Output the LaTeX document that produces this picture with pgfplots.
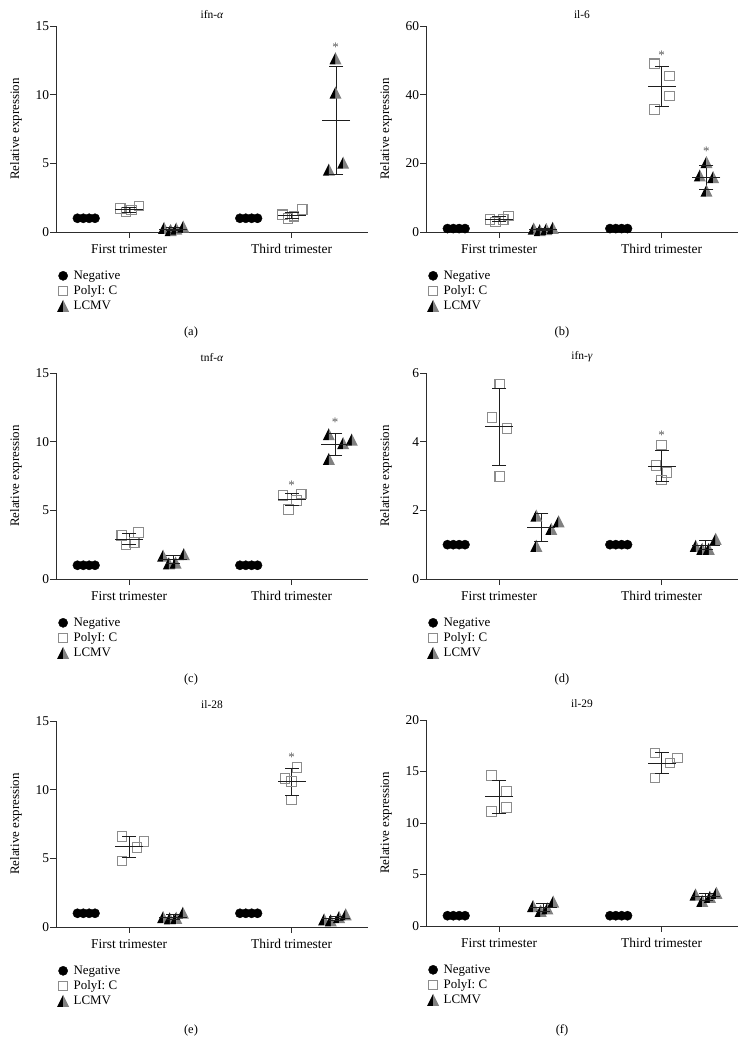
\documentclass[border=0pt]{standalone}
\usepackage{fontspec}
\setmainfont{Liberation Serif}
\usepackage{pgfplots}
\pgfplotsset{compat=1.18}
\definecolor{tgray}{RGB}{128,128,128}
\definecolor{sgray}{RGB}{140,140,140}
\definecolor{axc}{RGB}{45,45,45}
\definecolor{errc}{RGB}{30,30,30}
\definecolor{astc}{RGB}{90,90,90}

\pgfdeclareplotmark{htri}{%
  \pgfpathmoveto{\pgfqpoint{0pt}{1.1\pgfplotmarksize}}%
  \pgfpathlineto{\pgfqpoint{-\pgfplotmarksize}{-0.9\pgfplotmarksize}}%
  \pgfpathlineto{\pgfqpoint{0pt}{-0.9\pgfplotmarksize}}%
  \pgfpathclose
  \pgfsetfillcolor{black}%
  \pgfusepath{fill}%
  \pgfpathmoveto{\pgfqpoint{0pt}{1.1\pgfplotmarksize}}%
  \pgfpathlineto{\pgfqpoint{\pgfplotmarksize}{-0.9\pgfplotmarksize}}%
  \pgfpathlineto{\pgfqpoint{0pt}{-0.9\pgfplotmarksize}}%
  \pgfpathclose
  \pgfsetfillcolor{tgray}%
  \pgfusepath{fill}%
}

\pgfplotsset{
  panel/.style={
    scale only axis, width=312bp, height=206bp,
    anchor=south west,
    xmin=-0.45, xmax=1.47, ymin=0,
    axis x line=bottom, axis y line=left,
    axis line style={-, axc, line width=0.8pt},
    xtick={0,1}, xticklabels={First trimester, Third trimester},
    tick align=outside, major tick length=6bp,
    tick style={axc, line width=0.8pt},
    minor tick num=0,
    clip=false,
    /pgf/number format/assume math mode=true,
    tick label style={font=\fontsize{13.5}{16}\selectfont},
    xticklabel style={yshift=-3bp},
    yticklabel style={inner sep=0.8pt},
    ylabel={Relative expression},
    every axis y label/.style={at={(axis description cs:-0.128,0.5)}, rotate=90, anchor=center, font=\fontsize{13}{15}\selectfont},
    title style={font=\fontsize{11.5}{14}\selectfont, at={(axis description cs:0.5,1)}, anchor=center},
    legend style={at={(axis description cs:0.003,-0.18)}, anchor=north west, draw=none, fill=none,
      font=\fontsize{13}{15}\selectfont, row sep=2bp, column sep=3bp, inner sep=0pt,
      nodes={inner sep=1.5pt}},
    legend cell align=left,
    legend image code/.code={\draw[##1] plot coordinates {(0bp,0bp)};},
  },
  neg/.style={only marks, mark=*, mark size=4.6bp, black, mark options={fill=black, draw=black}},
  pic/.style={only marks, mark=square, mark size=4.8bp, sgray, mark options={line width=1.1pt, draw=sgray, fill=none}},
  lcm/.style={only marks, mark=htri, mark size=6bp},
}

\newcommand{\mse}[4]{%
  \addplot[forget plot, errc, line width=0.9pt] coordinates {(#1,#3) (#1,#4)};
  \addplot[forget plot, errc, only marks, mark=-, mark size=7bp, mark options={line width=0.9pt}] coordinates {(#1,#3) (#1,#4)};
  \addplot[forget plot, errc, only marks, mark=-, mark size=14bp, mark options={line width=0.9pt}] coordinates {(#1,#2)};
}
\newcommand{\negdata}{%
  \addplot[neg] coordinates {(-0.318,1) (-0.282,1) (-0.246,1) (-0.21,1) (0.682,1) (0.718,1) (0.754,1) (0.79,1)};
}
\newcommand{\astm}[2]{\node[astc, font=\fontsize{13}{15}\selectfont, anchor=center, yshift=-3bp] at (axis cs:#1,#2) {*};}
\newcommand{\leg}{\legend{Negative, PolyI: C, LCMV}}

\begin{document}
\begin{tikzpicture}
\useasboundingbox (0,0) rectangle (747bp,-1053bp);

% (a) ifn-alpha
\begin{axis}[panel, at={(56bp,-232bp)}, ymax=15, ytick={0,5,10,15},
  title={ifn-\textit{α}}, title style={yshift=5bp}]
\negdata
\addplot[pic] coordinates {(-0.055,1.7) (-0.02,1.45) (0.014,1.6) (0.061,1.9) (0.943,1.25) (0.978,1.0) (1.014,1.15) (1.065,1.65)};
\addplot[lcm] coordinates {(0.215,0.25) (0.256,0.1) (0.29,0.2) (0.333,0.35) (1.229,4.5) (1.27,12.6) (1.27,10.1) (1.317,5.0)};
\leg
\mse{0}{1.62}{1.45}{1.8}
\mse{0.27}{0.22}{0.1}{0.35}
\mse{1}{1.21}{0.98}{1.45}
\mse{1.274}{8.1}{4.2}{12.05}
\astm{1.27}{13.7}
\end{axis}

% (b) il-6
\begin{axis}[panel, at={(426bp,-232bp)}, ymax=60, ytick={0,20,40,60},
  title={il-6}, title style={yshift=5bp}]
\negdata
\addplot[pic] coordinates {(-0.057,3.7) (-0.022,2.9) (0.025,3.7) (0.059,4.7) (0.955,49.0) (1.047,45.4) (1.047,39.6) (0.955,35.7)};
\addplot[lcm] coordinates {(0.213,0.8) (0.25,0.4) (0.29,0.7) (0.33,1.0) (1.276,20.2) (1.235,16.3) (1.317,15.8) (1.276,11.9)};
\leg
\mse{0}{3.75}{3.0}{4.5}
\mse{0.27}{0.7}{0.45}{0.95}
\mse{1}{42.3}{36.5}{48.1}
\mse{1.276}{15.8}{12.4}{19.5}
\astm{1}{52.4}
\astm{1.276}{24.4}
\end{axis}

% (c) tnf-alpha
\begin{axis}[panel, at={(56bp,-579bp)}, ymax=15, ytick={0,5,10,15},
  title={tnf-\textit{α}}, title style={yshift=10bp}]
\negdata
\addplot[pic] coordinates {(-0.045,3.16) (-0.02,2.5) (0.031,2.67) (0.057,3.4) (0.947,6.07) (0.98,5.05) (1.031,5.73) (1.059,6.19)};
\addplot[lcm] coordinates {(0.209,1.65) (0.245,1.1) (0.286,1.15) (0.337,1.77) (1.229,10.5) (1.229,8.7) (1.317,9.85) (1.37,10.1)};
\leg
\mse{0}{2.9}{2.5}{3.3}
\mse{0.27}{1.42}{1.1}{1.75}
\mse{1}{5.78}{5.34}{6.26}
\mse{1.268}{9.8}{9.0}{10.63}
\astm{1}{7.04}
\astm{1.268}{11.6}
\end{axis}

% (d) ifn-gamma
\begin{axis}[panel, at={(426bp,-579bp)}, ymax=6, ytick={0,2,4,6},
  title={ifn-\textit{γ}}, title style={yshift=10bp}]
\negdata
\addplot[pic] coordinates {(0.004,5.68) (-0.043,4.7) (0.049,4.39) (0.004,2.98) (1.0,3.9) (0.965,3.31) (1.033,3.1) (1.0,2.88)};
\addplot[lcm] coordinates {(0.229,1.83) (0.321,1.44) (0.366,1.66) (0.229,0.95) (1.21,0.95) (1.25,0.86) (1.29,0.86) (1.333,1.15)};
\leg
\mse{0}{4.44}{3.32}{5.55}
\mse{0.26}{1.51}{1.1}{1.9}
\mse{1}{3.29}{2.85}{3.73}
\mse{1.27}{0.98}{0.86}{1.12}
\astm{1}{4.26}
\end{axis}

% (e) il-28
\begin{axis}[panel, at={(56bp,-927bp)}, ymax=15, ytick={0,5,10,15},
  title={il-28}, title style={yshift=10bp}]
\negdata
\addplot[pic] coordinates {(-0.043,6.58) (0.049,5.78) (0.092,6.21) (-0.043,4.81) (0.959,10.83) (1.0,10.58) (1.033,11.63) (1.0,9.25)};
\addplot[lcm] coordinates {(0.209,0.68) (0.25,0.58) (0.29,0.63) (0.331,1.0) (1.2,0.51) (1.241,0.44) (1.292,0.68) (1.333,0.87)};
\leg
\mse{0}{5.85}{5.07}{6.58}
\mse{0.27}{0.72}{0.55}{0.9}
\mse{1}{10.58}{9.56}{11.55}
\mse{1.27}{0.62}{0.45}{0.8}
\astm{1}{12.57}
\end{axis}

% (f) il-29
\begin{axis}[panel, at={(426bp,-926bp)}, ymax=20, ytick={0,5,10,15,20},
  title={il-29}, title style={yshift=10bp}]
\negdata
\addplot[pic] coordinates {(-0.047,14.6) (0.045,13.07) (0.045,11.52) (-0.047,11.1) (0.959,16.8) (1.051,15.83) (1.098,16.31) (0.959,14.37)};
\addplot[lcm] coordinates {(0.209,1.88) (0.256,1.42) (0.297,1.65) (0.333,2.3) (1.209,3.0) (1.25,2.39) (1.297,2.78) (1.337,3.17)};
\leg
\mse{0}{12.59}{10.97}{14.17}
\mse{0.27}{1.8}{1.45}{2.2}
\mse{1}{15.83}{14.82}{16.86}
\mse{1.27}{2.85}{2.5}{3.2}
\end{axis}

\node[font=\fontsize{12.5}{15}\selectfont] at (191bp,-333bp) {(a)};
\node[font=\fontsize{12.5}{15}\selectfont] at (562bp,-333bp) {(b)};
\node[font=\fontsize{12.5}{15}\selectfont] at (191bp,-679bp) {(c)};
\node[font=\fontsize{12.5}{15}\selectfont] at (562bp,-679bp) {(d)};
\node[font=\fontsize{12.5}{15}\selectfont] at (191bp,-1030bp) {(e)};
\node[font=\fontsize{12.5}{15}\selectfont] at (562bp,-1030bp) {(f)};
\end{tikzpicture}
\end{document}
